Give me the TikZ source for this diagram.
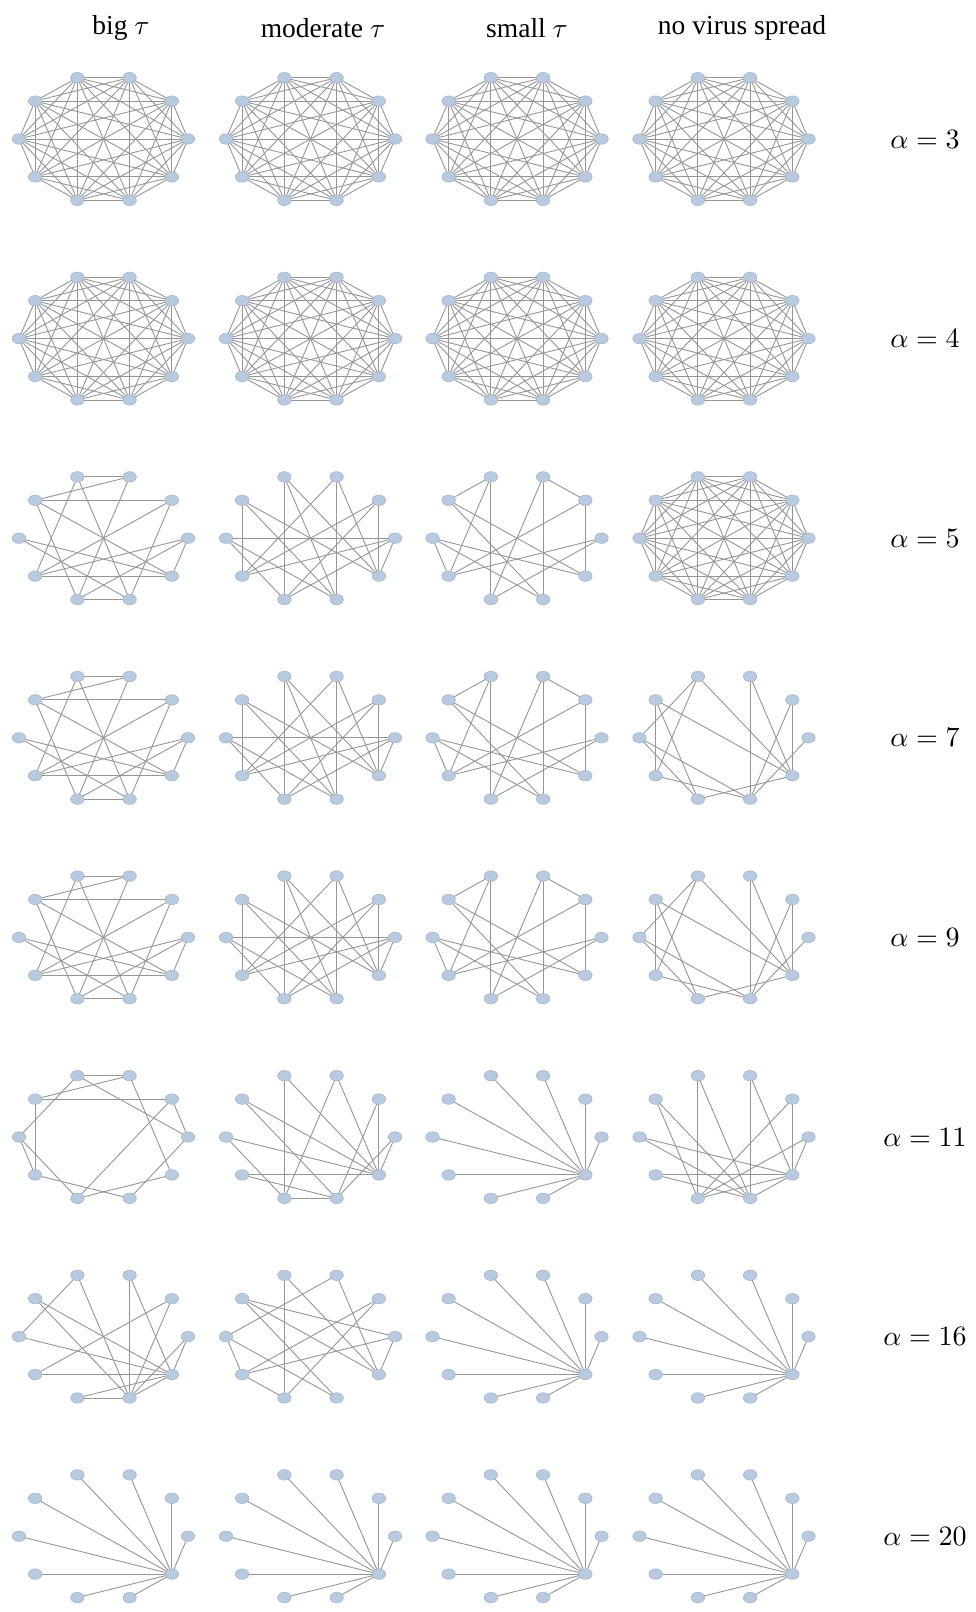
\documentclass[tikz,border=0pt]{standalone}
\usepackage{fontspec}
\setmainfont{Liberation Serif}
\usetikzlibrary{shapes.geometric}
\pgfdeclarelayer{bg}
\pgfsetlayers{bg,main}
\definecolor{vfill}{RGB}{184,202,224}
\definecolor{vline}{RGB}{160,178,200}
\definecolor{ecol}{RGB}{150,150,150}
\tikzset{
 vtx/.style={ellipse, fill=vfill, draw=vline, line width=0.5pt, minimum width=13.5pt, minimum height=10.5pt, inner sep=0pt},
 edge/.style={draw=ecol, line width=0.9pt},
 hdr/.style={scale=2.75},
 lab/.style={scale=2.8},
}
\newcommand\netnodes[3]{\foreach \k in {0,...,9}{\node[vtx] (#1-\k) at ({#2+84.5*cos(36*\k)},{#3-64.5*sin(36*\k)}) {};}}
\newcommand\netedges[2]{\begin{pgfonlayer}{bg}\foreach \a/\b in #2 {\draw[edge] (#1-\a.center) -- (#1-\b.center);}\end{pgfonlayer}}
\newcommand\cell[4]{\netnodes{#1}{#2}{#3}\netedges{#1}{#4}}
\def\GK{0/1,0/2,0/3,0/4,0/5,0/6,0/7,0/8,0/9,1/2,1/3,1/4,1/5,1/6,1/7,1/8,1/9,2/3,2/4,2/5,2/6,2/7,2/8,2/9,3/4,3/5,3/6,3/7,3/8,3/9,4/5,4/6,4/7,4/8,4/9,5/6,5/7,5/8,5/9,6/7,6/8,6/9,7/8,7/9,8/9}
\def\GS{9/0,9/1,9/2,9/3,9/4,9/5,9/6,9/7,9/8}
\def\GA{3/2,4/2,4/1,3/6,4/7,3/8,2/7,4/9,1/6,1/8,0/9,5/9,5/8,0/6,0/7,6/9,7/8}
\def\GB{3/7,2/8,4/6,1/9,5/0,3/8,3/9,2/6,2/9,4/8,4/9,1/7,1/6,5/7,5/8,6/0,7/0,0/9}
\def\GC{4/3,2/1,3/7,2/8,1/9,5/6,3/6,2/7,1/6,4/8,4/9,5/9,5/8,0/6,0/7}
\def\GD{4/6,5/3,6/3,3/9,2/8,2/9,1/9,1/8,0/8,4/9,4/7,5/7,5/8,6/8,7/9}
\def\GE{3/2,4/2,4/1,4/6,5/3,5/6,5/7,6/8,3/0,2/9,1/0,1/7,0/8,7/9}
\def\GF{3/7,3/9,2/7,2/9,1/9,1/8,4/9,4/8,5/9,5/7,6/9,6/8,7/8,0/9,0/8}
\def\GG{3/7,3/8,2/8,2/9,1/9,1/7,0/9,0/7,4/7,4/8,5/9,5/8,6/9,6/8,7/9,8/9}
\def\GH{3/5,3/8,2/8,2/9,4/9,4/8,5/9,1/6,1/8,6/9,7/8,0/9,0/8,9/8,7/9}
\def\GI{3/7,3/9,2/5,2/9,4/0,4/9,4/8,1/7,1/6,5/6,5/8,6/0,6/7,0/9}
\begin{document}
\begin{tikzpicture}[x=1pt,y=-1pt]
\useasboundingbox (0,0) rectangle (975,1612);
\node[hdr] (h1) at (121,28) {big $\tau$};
\node[hdr] (h2) at (323,28) {moderate $\tau$};
\node[hdr] (h3) at (527,28) {small $\tau$};
\node[hdr] (h4) at (742,28) {no virus spread};
% row 1
\cell{a1}{103.5}{139}{\GK}\cell{b1}{310.5}{139}{\GK}\cell{c1}{517}{139}{\GK}\cell{d1}{724}{139}{\GK}
\node[lab] (l1) at (925,139) {$\alpha = 3$};
% row 2
\cell{a2}{103.5}{338.6}{\GK}\cell{b2}{310.5}{338.6}{\GK}\cell{c2}{517}{338.6}{\GK}\cell{d2}{724}{338.6}{\GK}
\node[lab] (l2) at (925,338.6) {$\alpha = 4$};
% row 3
\cell{a3}{103.5}{538.2}{\GA}\cell{b3}{310.5}{538.2}{\GB}\cell{c3}{517}{538.2}{\GC}\cell{d3}{724}{538.2}{\GK}
\node[lab] (l3) at (925,538.2) {$\alpha = 5$};
% row 4
\cell{a4}{103.5}{737.8}{\GA}\cell{b4}{310.5}{737.8}{\GB}\cell{c4}{517}{737.8}{\GC}\cell{d4}{724}{737.8}{\GD}
\node[lab] (l4) at (925,737.8) {$\alpha = 7$};
% row 5
\cell{a5}{103.5}{937.4}{\GA}\cell{b5}{310.5}{937.4}{\GB}\cell{c5}{517}{937.4}{\GC}\cell{d5}{724}{937.4}{\GD}
\node[lab] (l5) at (925,937.4) {$\alpha = 9$};
% row 6
\cell{a6}{103.5}{1137}{\GE}\cell{b6}{310.5}{1137}{\GF}\cell{c6}{517}{1137}{\GS}\cell{d6}{724}{1137}{\GG}
\node[lab] (l6) at (925,1137) {$\alpha = 11$};
% row 7
\cell{a7}{103.5}{1336.6}{\GH}\cell{b7}{310.5}{1336.6}{\GI}\cell{c7}{517}{1336.6}{\GS}\cell{d7}{724}{1336.6}{\GS}
\node[lab] (l7) at (925,1336.6) {$\alpha = 16$};
% row 8
\cell{a8}{103.5}{1536.2}{\GS}\cell{b8}{310.5}{1536.2}{\GS}\cell{c8}{517}{1536.2}{\GS}\cell{d8}{724}{1536.2}{\GS}
\node[lab] (l8) at (925,1536.2) {$\alpha = 20$};
\end{tikzpicture}
\end{document}
